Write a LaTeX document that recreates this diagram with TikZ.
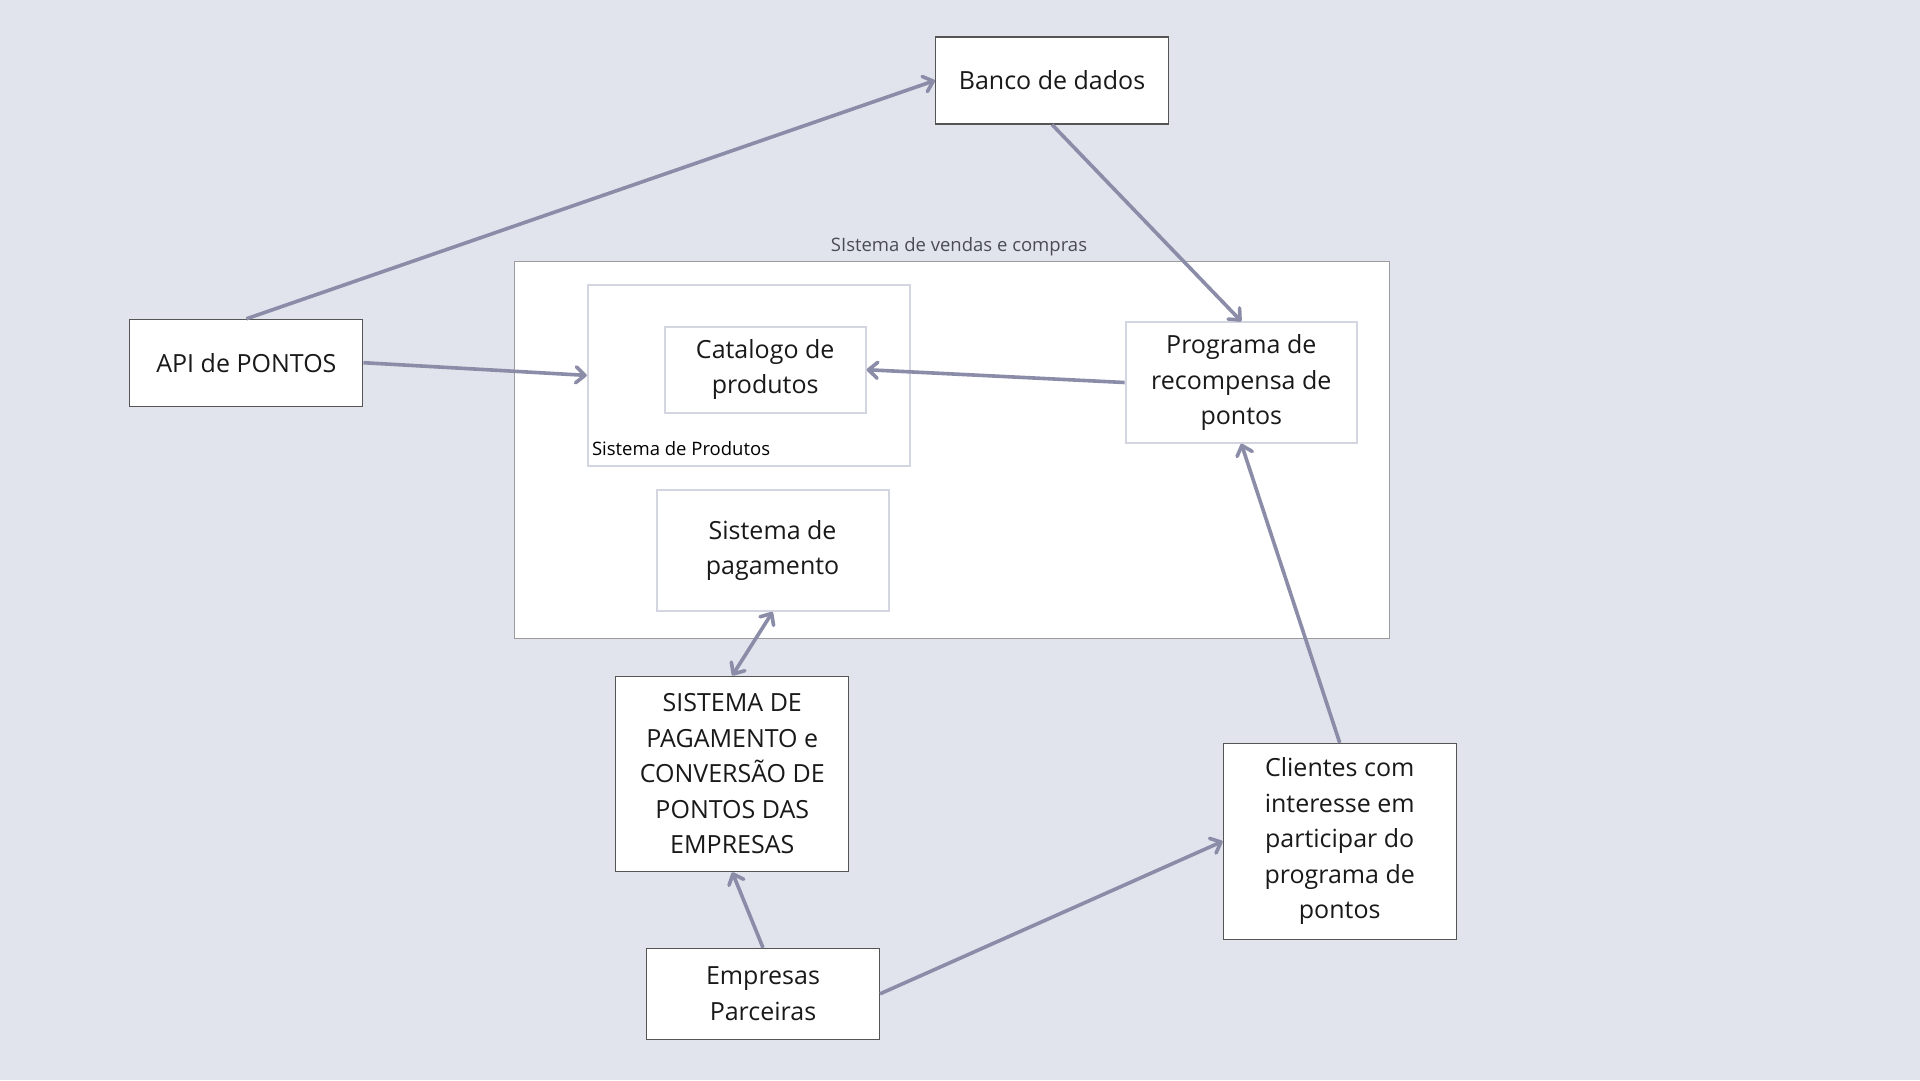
\documentclass[tikz,border=0pt]{standalone}
\usepackage{fontspec}
\setmainfont{Open Sans}
\usepackage{tikz}
\usetikzlibrary{arrows.meta}
\definecolor{fundo}{HTML}{E1E4EC}
\definecolor{borda}{HTML}{555555}
\definecolor{bordaclara}{HTML}{D3D5E1}
\definecolor{bordagrupo}{HTML}{9C9C9C}
\definecolor{corseta}{HTML}{8A8CA8}
\definecolor{textogrupo}{HTML}{4A4B57}
\newcommand{\texto}{\fontsize{25}{35.5}\selectfont}
\newcommand{\textopeq}{\fontsize{18.5}{24}\selectfont}
\tikzstyle{caixa} = [rectangle, minimum width=233, draw=borda, line width=1.1pt, fill=white, text centered, align=center, inner sep=0pt, font=\texto, text=black!90]
\tikzstyle{interna} = [caixa, draw=bordaclara, line width=2pt]
\tikzstyle{grupo} = [rectangle, draw=bordagrupo, line width=1.3pt, fill=white, inner sep=0pt]
\tikzstyle{seta} = [line width=3.6pt, draw=corseta, -{Straight Barb[length=9pt, width=16pt, round]}]

\begin{document}
\begin{tikzpicture}[x=1pt, y=-1pt]
\fill[fundo] (0,0) rectangle (1920,1080);

% Grupos
\node (vendas) [grupo, minimum width=875.4, minimum height=376.6] at (952,450) {};
\node (vendastxt) [anchor=base, font=\textopeq, text=textogrupo, inner sep=0pt] at (959,251.5) {SIstema de vendas e compras};
\node (produtos) [grupo, draw=bordaclara, line width=2pt, minimum width=322.6, minimum height=180.7] at (749.1,375.4) {};
\node (produtostxt) [anchor=base west, font=\textopeq, inner sep=0pt] at (591.8,455) {Sistema de Produtos};

% Nodes
\node (banco) [caixa, minimum height=87] at (1052,80.5) {Banco de dados};
\node (api) [caixa, minimum height=86.7] at (246.4,362.7) {API de PONTOS};
\node (catalogo) [interna, minimum width=201, minimum height=86] at (765.2,369.7) {Catalogo de\\produtos};
\node (programa) [interna, minimum width=231.3, minimum height=120.4] at (1241.3,382.5) {Programa de\\recompensa de\\pontos};
\node (pagamento) [interna, minimum width=232, minimum height=121.3] at (772.6,550.3) {Sistema de\\pagamento};
\node (sispag) [caixa, minimum height=195.7] at (732.3,773.9) {SISTEMA DE\\PAGAMENTO e\\CONVERSÃO DE\\PONTOS DAS\\EMPRESAS};
\node (empresas) [caixa, minimum height=91] at (763,993.8) {Empresas\\Parceiras};
\node (clientes) [caixa, minimum height=196] at (1339.7,841.3) {Clientes com\\interesse em\\participar do\\programa de\\pontos};

% Arrows
\draw [seta] (api.north) -- (banco.west);
\draw [seta] (api.east) -- (produtos.west);
\draw [seta] (banco.south) -- (programa.north);
\draw [seta] (programa.west) -- (catalogo.east);
\draw [seta, {Straight Barb[length=9pt, width=16pt, round]}-{Straight Barb[length=9pt, width=16pt, round]}] (pagamento.south) -- (sispag.north);
\draw [seta] (empresas.north) -- (sispag.south);
\draw [seta] (empresas.east) -- (clientes.west);
\draw [seta] (clientes.north) -- (programa.south);
\end{tikzpicture}
\end{document}
